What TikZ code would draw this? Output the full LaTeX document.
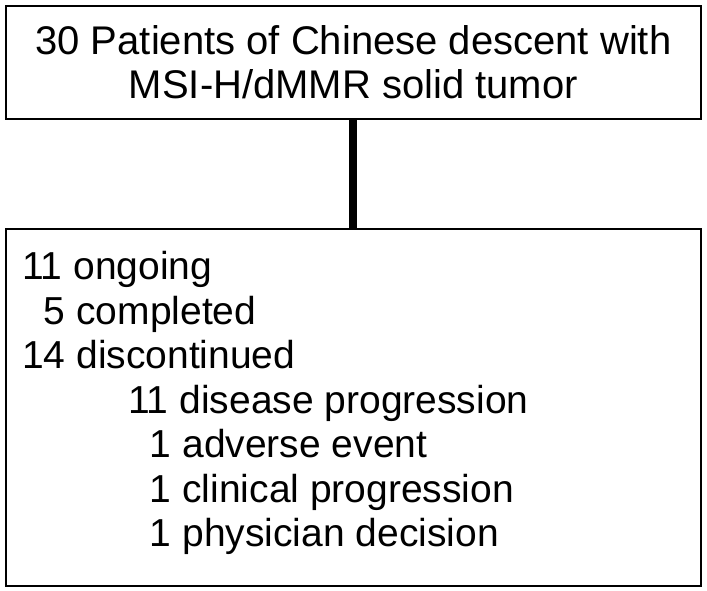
\documentclass[tikz,border=0pt]{standalone}
\usepackage{fontspec}
\setmainfont{Liberation Sans}
\begin{document}
\begin{tikzpicture}[x=1pt,y=-1pt,
  box/.style={draw=black,line width=1.8pt},
  txt/.style={font=\fontsize{39}{45}\selectfont,inner sep=0pt,anchor=base west}]
\useasboundingbox (0,0) rectangle (707,590);
\node[box,minimum width=695pt,minimum height=113pt,inner sep=0pt,anchor=north west,align=center,font=\fontsize{40}{44}\selectfont] (top) at (5,5) {30 Patients of Chinese descent with\\MSI-H/dMMR solid tumor};
\node[box,minimum width=695pt,minimum height=357pt,inner sep=0pt,anchor=north west] (bot) at (5,228) {};
\draw[line width=8pt] (top.south) -- (bot.north);
\node[txt] (l1) at (22,279) {11 ongoing};
\node[txt] (l2) at (22,324) {\phantom{1}5 completed};
\node[txt] (l3) at (22,368) {14 discontinued};
\node[txt] (l4) at (128,413) {11 disease progression};
\node[txt] (l5) at (128,457) {\phantom{1}1 adverse event};
\node[txt] (l6) at (128,502) {\phantom{1}1 clinical progression};
\node[txt] (l7) at (128,546) {\phantom{1}1 physician decision};
\end{tikzpicture}
\end{document}
